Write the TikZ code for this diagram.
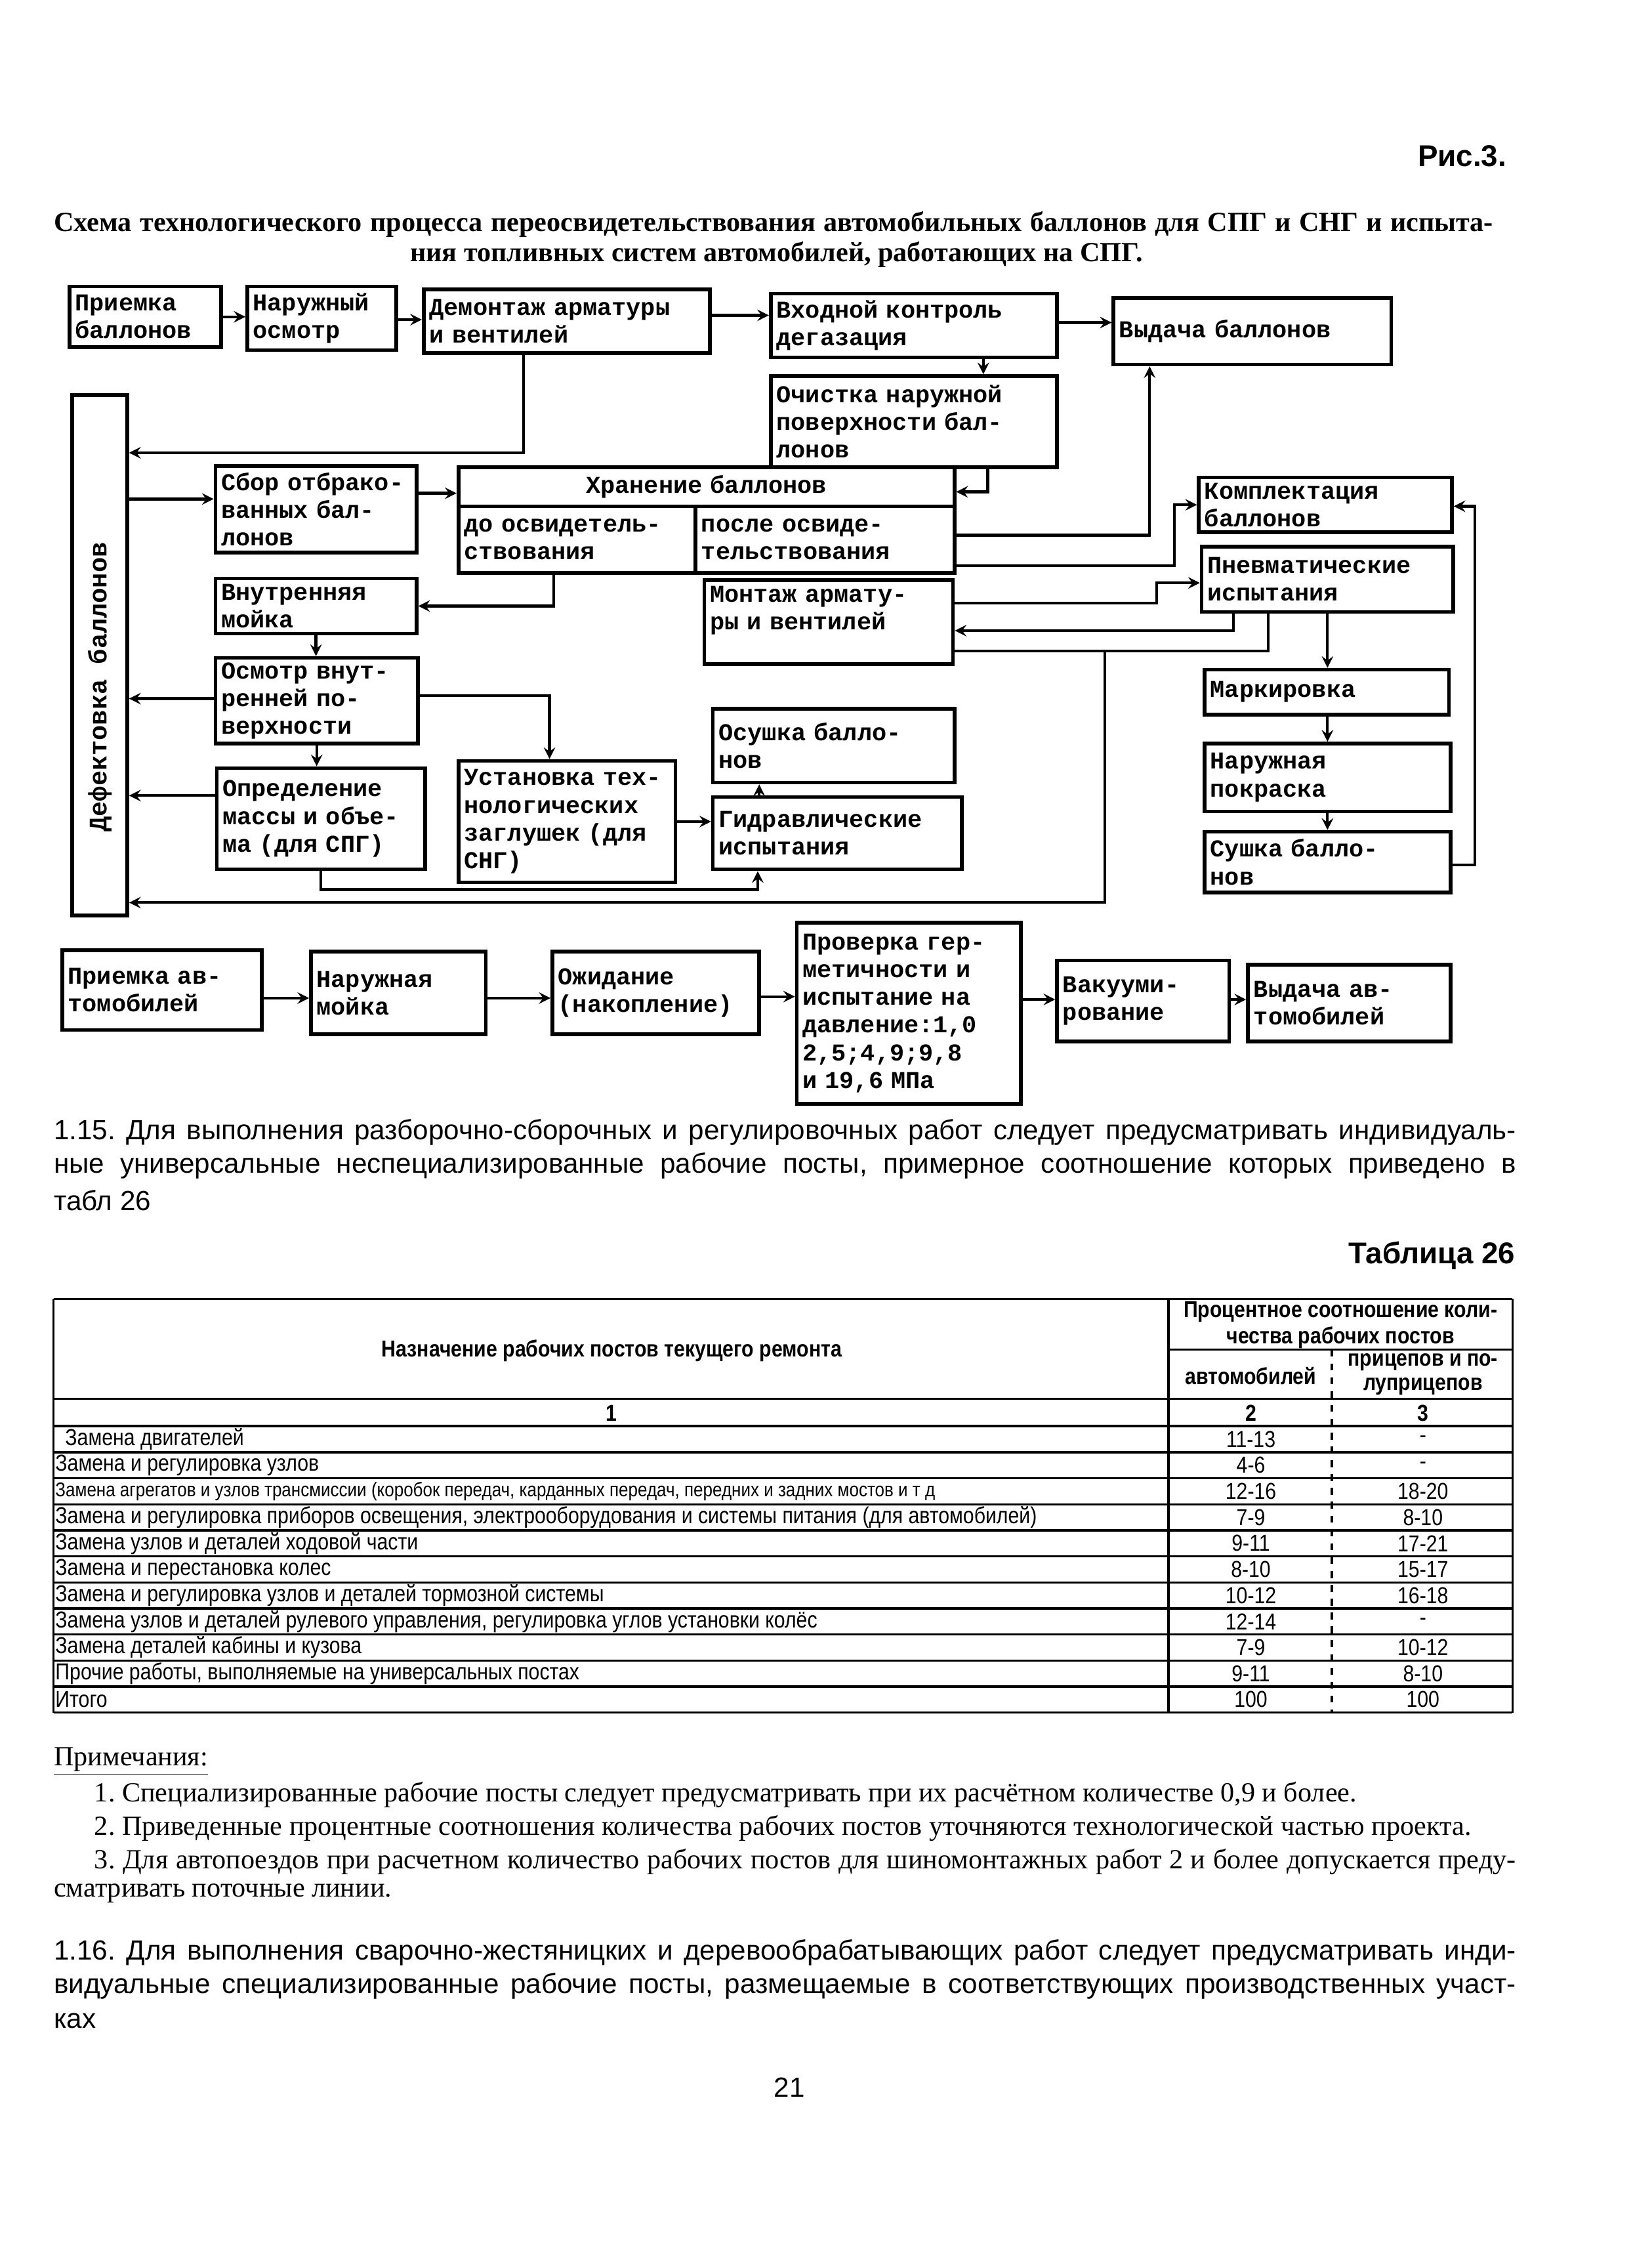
\documentclass[tikz,border=0pt]{standalone}
\usepackage{fontspec}
\setmainfont{Liberation Serif}
\setsansfont{Liberation Sans}
\newfontfamily\boxfont{Liberation Mono}
\newfontfamily\tabfont{Liberation Sans}[FakeStretch=0.86]
\usepackage{tikz}
\frenchspacing

\def\u{0.022037cm}
\newcommand{\boxat}[7][]{%
  \pgfmathsetlengthmacro{\boxw}{(#5-#3)*\u}%
  \pgfmathsetlengthmacro{\boxh}{(#6-#4)*\u}%
  \pgfmathsetlengthmacro{\boxtw}{(#5-#3)*\u-5pt}%
  \node[blk,minimum width=\boxw,minimum height=\boxh,text width=\boxtw,#1]
    (#2) at ({(#3+#5)/2},{(#4+#6)/2}) {#7};}

\tikzset{
  blk/.style={draw,line width=1.6pt,inner sep=2pt,align=left,
    font=\boxfont\bfseries\fontsize{10.5}{12}\selectfont},
  con/.style={line width=1.2pt},
  arr/.style={con,->},
  ln/.style={line width=1pt},
  body/.style={font=\sffamily\fontsize{12}{14}\selectfont,inner sep=0pt},
  note/.style={font=\rmfamily\fontsize{12}{14}\selectfont,inner sep=0pt},
  ttl/.style={font=\rmfamily\bfseries\fontsize{12}{14}\selectfont,inner sep=0pt},
  hd/.style={font=\sffamily\bfseries\fontsize{13}{15}\selectfont,inner sep=0pt},
  th/.style={font=\tabfont\bfseries\fontsize{10}{11.5}\selectfont,inner sep=0pt,align=center},
  td/.style={font=\tabfont\fontsize{10}{12}\selectfont,inner sep=0pt}
}

\begin{document}
\begin{tikzpicture}[x=\u,y=-\u,>=stealth]
  \useasboundingbox (0,0) rectangle (1129,1568);

  \node[hd,anchor=east] (fig) at (1042,108) {Рис.3.};
  \node[ttl,anchor=west] (tt1) at (37,155) {\makebox[21.93cm][s]{Схема технологического процесса переосвидетельствования автомобильных баллонов для СПГ и СНГ и испыта-}};
  \node[ttl] (tt2) at (537,176) {ния топливных систем автомобилей, работающих на СПГ.};

  \boxat{pri}{48}{198}{153}{240}{Приемка\\баллонов}
  \boxat{nar}{171}{198}{274}{242}{Наружный\\осмотр}
  \boxat{dem}{293}{200}{491}{244}{Демонтаж арматуры\\и вентилей}
  \boxat{vhod}{533}{203}{731}{247}{Входной контроль\\дегазация}
  \boxat{vyd}{770}{206}{962}{252}{Выдача баллонов}
  \boxat{och}{533}{260}{731}{323}{Очистка наружной\\поверхности бал-\\лонов}
  \boxat{def}{50}{273}{88}{633}{}
  \node[rotate=90,font=\boxfont\bfseries\fontsize{11}{12}\selectfont] (deft) at (69,475) {Дефектовка баллонов};
  \boxat{sbor}{149}{322}{288}{382}{Сбор отбрако-\\ванных бал-\\лонов}
  \boxat[align=center]{stor}{317}{323}{660}{350}{Хранение баллонов}
  \boxat{before}{317}{350}{481}{396}{до освидетель-\\ствования}
  \boxat{after}{481}{350}{660}{396}{после освиде-\\тельствования}
  \boxat{kompl}{829}{330}{1004}{368}{Комплектация\\баллонов}
  \boxat{pnev}{831}{378}{1005}{423}{Пневматические\\испытания}
  \boxat{vnut}{149}{400}{288}{438}{Внутренняя\\мойка}
  \boxat{mont}{487}{401}{659}{459}{Монтаж армату-\\ры и вентилей\\\mbox{}}
  \boxat{mark}{833}{463}{1002}{494}{Маркировка}
  \boxat{osm}{149}{455}{289}{514}{Осмотр внут-\\ренней по-\\верхности}
  \boxat{osu}{493}{490}{660}{541}{Осушка балло-\\нов}
  \boxat{pokr}{833}{514}{1003}{561}{Наружная\\покраска}
  \boxat{opr}{150}{531}{294}{601}{Определение\\массы и объе-\\ма (для СПГ)}
  \boxat{ust}{317}{526}{467}{610}{Установка тех-\\нологических\\заглушек (для\\СНГ)}
  \boxat{gid}{493}{551}{665}{601}{Гидравлические\\испытания}
  \boxat{sush}{833}{575}{1003}{617}{Сушка балло-\\нов}

  \draw[arr] (pri.east |- 0,219) -- (nar.west |- 0,219);
  \draw[arr] (nar.east |- 0,221) -- (dem.west |- 0,221);
  \draw[arr] (dem.east |- 0,218) -- (vhod.west |- 0,218);
  \draw[arr] (vhod.east |- 0,223) -- (vyd.west |- 0,223);
  \draw[arr] (dem.south -| 362,0) |- (def.east |- 0,313);
  \draw[arr] (vhod.south -| 680,0) -- (och.north -| 680,0);
  \draw[arr] (och.south -| 683,0) |- (stor.east |- 0,340);
  \draw[arr] (after.east |- 0,370) -| (vyd.south -| 795,0);
  \draw[arr] (after.east |- 0,391) -| (812,349) -- (kompl.west |- 0,349);
  \draw[arr] (sush.east |- 0,598) -| (1020,350) -- (kompl.east |- 0,350);
  \draw[arr] (def.east |- 0,345) -- (sbor.west |- 0,345);
  \draw[arr] (sbor.east |- 0,341) -- (stor.west |- 0,341);
  \draw[arr] (before.south -| 383,0) |- (vnut.east |- 0,419);
  \draw[arr] (vnut.south) -- (vnut.south |- osm.north);
  \draw[arr] (osm.west |- 0,483) -- (def.east |- 0,483);
  \draw[arr] (osm.east |- 0,481) -| (ust.north -| 380,0);
  \draw[arr] (osm.south) -- (osm.south |- opr.north);
  \draw[arr] (opr.west |- 0,550) -- (def.east |- 0,550);
  \draw[arr] (opr.south) |- (524,615) -- (gid.south -| 524,0);
  \draw[arr] (ust.east |- 0,568) -- (gid.west |- 0,568);
  \draw[arr] (gid.north -| 525,0) -- (osu.south -| 525,0);
  \draw[arr] (mont.east |- 0,417) -| (800,403) -- (pnev.west |- 0,403);
  \draw[arr] (pnev.south -| 853,0) |- (mont.east |- 0,436);
  \draw[con] (pnev.south -| 877,0) |- (mont.east |- 0,450);
  \coordinate (jc) at (764,450);
  \draw[arr] (jc) |- (def.east |- 0,624);
  \draw[arr] (pnev.south -| 918,0) -- (mark.north -| 918,0);
  \draw[arr] (mark.south -| 918,0) -- (pokr.north -| 918,0);
  \draw[arr] (pokr.south -| 918,0) -- (sush.north -| 918,0);

  \boxat{car1}{43}{657}{181}{712}{Приемка ав-\\томобилей}
  \boxat{car2}{215}{658}{336}{715}{Наружная\\мойка}
  \boxat{car3}{382}{658}{525}{715}{Ожидание\\(накопление)}
  \boxat{car4}{551}{638}{706}{763}{Проверка гер-\\метичности и\\испытание на\\давление:1,0\\2,5;4,9;9,8\\и 19,6 МПа}
  \boxat{car5}{731}{664}{850}{720}{Вакууми-\\рование}
  \boxat{car6}{863}{667}{1003}{720}{Выдача ав-\\томобилей}
  \draw[arr] (car1.east |- 0,690) -- (car2.west |- 0,690);
  \draw[arr] (car2.east |- 0,690) -- (car3.west |- 0,690);
  \draw[arr] (car3.east |- 0,689) -- (car4.west |- 0,689);
  \draw[arr] (car4.east |- 0,691) -- (car5.west |- 0,691);
  \draw[arr] (car5.east |- 0,691) -- (car6.west |- 0,691);

  \node[body,anchor=west] (p1a) at (37,783) {\makebox[22.28cm][s]{1.15. Для выполнения разборочно-сборочных и регулировочных работ следует предусматривать индивидуаль-}};
  \node[body,anchor=west] (p1b) at (37,806) {\makebox[22.28cm][s]{ные универсальные неспециализированные рабочие посты, примерное соотношение которых приведено в}};
  \node[body,anchor=west] (p1c) at (37,830) {табл 26};
  \node[hd,anchor=east] (tab) at (1048,868) {Таблица 26};

  \draw[ln] (37,898) -- (1046,898);
  \draw[ln] (808,933) -- (1046,933);
  \foreach \yy in {967,986,1004,1022,1040,1058,1076,1094,1112,1130,1148,1166,1184}
    \draw[ln] (37,\yy) -- (1046,\yy);
  \draw[ln] (37,898) -- (37,1184);
  \draw[ln] (808,898) -- (808,1184);
  \draw[ln] (1046,898) -- (1046,1184);
  \draw[ln,dashed] (921,933) -- (921,1184);
  \node[th] (h1) at (423,934) {Назначение рабочих постов текущего ремонта};
  \node[th] (h2) at (927,916) {Процентное соотношение коли-\\чества рабочих постов};
  \node[th] (h3) at (865,951) {автомобилей};
  \node[th,font=\tabfont\bfseries\fontsize{10}{10.5}\selectfont] (h4) at (984,950) {прицепов и по-\\луприцепов};
  \node[th] (n1) at (423,977) {1};
  \node[th] (n2) at (865,977) {2};
  \node[th] (n3) at (984,977) {3};
  \foreach \i/\txt/\va/\vb in {
    1/{\hspace{1.5mm}Замена двигателей}/11-13/-,
    2/{Замена и регулировка узлов}/4-6/-,
    3/{\fontsize{8.6}{10}\selectfont Замена агрегатов и узлов трансмиссии (коробок передач, карданных передач, передних и задних мостов и т д}/12-16/18-20,
    4/{Замена и регулировка приборов освещения, электрооборудования и системы питания (для автомобилей)}/7-9/8-10,
    5/{Замена узлов и деталей ходовой части}/9-11/17-21,
    6/{Замена и перестановка колес}/8-10/15-17,
    7/{Замена и регулировка узлов и деталей тормозной системы}/10-12/16-18,
    8/{Замена узлов и деталей рулевого управления, регулировка углов установки колёс}/12-14/-,
    9/{Замена деталей кабины и кузова}/7-9/10-12,
    10/{Прочие работы, выполняемые на универсальных постах}/9-11/8-10,
    11/{Итого}/100/100}{
    \node[td,anchor=west] (name\i) at (38,{977+18*\i}) {\txt};
    \node[td] (auto\i) at (865,{977+18*\i}) {\va};
    \node[td] (trail\i) at (984,{977+18*\i}) {\vb};
  }

  \node[note,anchor=west] (nt0) at (37,1218) {\underline{Примечания:}};
  \node[note,anchor=west] (nt1) at (65,1241) {1. Специализированные рабочие посты следует предусматривать при их расчётном количестве 0,9 и более.};
  \node[note,anchor=west] (nt2) at (65,1264) {2. Приведенные процентные соотношения количества рабочих постов уточняются технологической частью проекта.};
  \node[note,anchor=west] (nt3) at (65,1287) {\makebox[21.66cm][s]{3. Для автопоездов при расчетном количество рабочих постов для шиномонтажных работ 2 и более допускается преду-}};
  \node[note,anchor=west] (nt4) at (37,1309) {сматривать поточные линии.};

  \node[body,anchor=west] (p2a) at (37,1350) {\makebox[22.28cm][s]{1.16. Для выполнения сварочно-жестяницких и деревообрабатывающих работ следует предусматривать инди-}};
  \node[body,anchor=west] (p2b) at (37,1373) {\makebox[22.28cm][s]{видуальные специализированные рабочие посты, размещаемые в соответствующих производственных участ-}};
  \node[body,anchor=west] (p2c) at (37,1397) {ках};
  \node[body] (pg) at (546,1443) {21};
\end{tikzpicture}
\end{document}
